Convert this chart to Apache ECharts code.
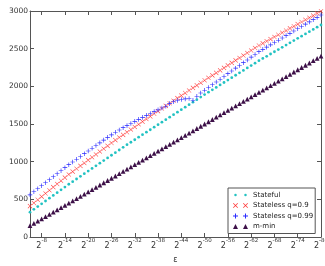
<!DOCTYPE html>
<html>
<head>
<meta charset="utf-8">
<script src="https://cdn.jsdelivr.net/npm/echarts@6/dist/echarts.min.js"></script>
<style>html,body{margin:0;padding:0;background:#fff}#c{width:325px;height:266px}</style>
</head>
<body>
<div id="c"></div>
<script>
// exponent k of epsilon = 2^-k
const kValues = [];
for (let k = 5; k <= 80; k++) kValues.push(k);

const stateful = [330,367,404,441,478,515,552,589,626,663,700,
735,770,805,840,875,910,945,980,1015,1050,1085,1120,1155,1190,1225,
1258,1291,1325,1358,1391,1424,1458,1491,1524,1557,1591,1624,1657,1690,1724,1757,1790,1823,1857,1890,
1922,1954,1986,2019,2051,2083,2115,2147,2179,2211,2244,2276,2308,2340,
2370,2399,2429,2459,2488,2518,2548,2577,2607,2637,2666,2696,2725,2755,2785,2814];

const stateless09 = [410,452,494,536,578,620,662,704,746,788,830,
868,906,944,982,1020,1058,1096,1134,1172,1210,1248,1286,
1321,1356,1391,1426,1461,1496,1531,1566,1601,1636,1671,1706,1741,
1775,1809,1843,1877,1911,1945,1979,2013,2047,
2080,2113,2146,2179,2212,2245,2278,2311,2344,2377,2410,2443,2476,2509,2542,
2570,2599,2627,2655,2684,2712,2741,2769,2797,2826,2854,2883,2911,2939,2968,2996];

const stateless099 = [560,600,640,680,720,760,800,840,880,920,960,
996,1032,1069,1106,1142,1178,1214,1250,1286,1322,
1356,1390,1421,1451,1479,1507,1535,1562,1588,1614,
1639,1664,1688,1712,1735,
1770,1795,1812,1825,1833,1838,1815,1868,1912,
1948,1985,2021,2058,2094,2131,2168,2204,2241,2277,2314,2350,2387,2423,2460,
2490,2521,2551,2582,2612,2642,2673,2703,2734,2764,2794,2825,2855,2886,2916,2947];

const mMin = [150,180,210,240,270,300,330,360,390,420,
450,480,510,540,570,600,630,660,690,720,
750,780,810,840,870,900,930,960,990,1020,
1050,1080,1110,1140,1170,1200,1230,1260,1290,1320,
1350,1380,1410,1440,1470,1500,1530,1560,1590,1620,
1650,1680,1710,1740,1770,1800,1830,1860,1890,1920,
1950,1980,2010,2040,2070,2100,2130,2160,2190,2220,
2250,2280,2310,2340,2370,2400];

const xTicks = [8,14,20,26,32,38,44,50,56,62,68,74,80];
const seriesNames = ['Stateful','Stateless q=0.9','Stateless q=0.99','m-min'];

const pair = a => a.map((v,i)=>[kValues[i], v]);

const FONT = 'DejaVu Sans';
const PLUS = 'path://M4.3,0H5.7V4.3H10V5.7H5.7V10H4.3V5.7H0V4.3H4.3Z';
const XMARK = 'path://M0,0.8L0.8,0L5,4.2L9.2,0L10,0.8L5.8,5L10,9.2L9.2,10L5,5.8L0.8,10L0,9.2L4.2,5Z';
const LEG_DOT = 'path://M0,0M30,10M2.5,5a2.5,2.5 0 1,0 5,0a2.5,2.5 0 1,0 -5,0ZM22.5,5a2.5,2.5 0 1,0 5,0a2.5,2.5 0 1,0 -5,0Z';
const LEG_X = 'path://M0,1L1,0L5,4L9,0L10,1L6,5L10,9L9,10L5,6L1,10L0,9L4,5ZM20,1L21,0L25,4L29,0L30,1L26,5L30,9L29,10L25,6L21,10L20,9L24,5Z';
const LEG_PLUS = 'path://M4,0H6V4H10V6H6V10H4V6H0V4H4ZM24,0H26V4H30V6H26V10H24V6H20V4H24Z';
const LEG_TRI = 'path://M0,10L5,0L10,10ZM20,10L25,0L30,10Z';

const axisLineStyle = {color:'#555', width:1};
const chart = echarts.init(document.getElementById('c'), null, {renderer:'canvas'});
chart.setOption({
  animation:false,
  backgroundColor:'#fff',
  grid:{left:30, right:4, top:11, bottom:29, containLabel:false, outerBoundsMode:'none'},
  xAxis:[{
    type:'value', min:5, max:80, position:'bottom',
    name:'ε', nameLocation:'middle', nameGap:19,
    nameTextStyle:{fontFamily:FONT, fontSize:8, color:'#333'},
    axisLine:{show:true, onZero:false, lineStyle:axisLineStyle},
    axisTick:{show:true, inside:true, length:4, customValues:xTicks, lineStyle:axisLineStyle},
    axisLabel:{show:true, customValues:xTicks, margin:1, color:'#333',
      formatter:v=>'{b|2}{s|-'+v+'}',
      rich:{b:{fontFamily:FONT, fontSize:8, lineHeight:12, verticalAlign:'bottom', color:'#333'},
            s:{fontFamily:FONT, fontSize:5.5, lineHeight:12, verticalAlign:'top', color:'#333'}}},
    splitLine:{show:false}
  },{
    type:'value', min:5, max:80, position:'top',
    axisLine:{show:true, onZero:false, lineStyle:axisLineStyle},
    axisTick:{show:true, inside:true, length:4, customValues:xTicks, lineStyle:axisLineStyle},
    axisLabel:{show:false}, splitLine:{show:false}
  }],
  yAxis:[{
    type:'value', min:0, max:3000, interval:500, position:'left',
    name:'m [bit]', nameLocation:'middle', nameGap:23, nameRotate:90,
    nameTextStyle:{fontFamily:FONT, fontSize:7.5, color:'#333'},
    axisLine:{show:true, onZero:false, lineStyle:axisLineStyle},
    axisTick:{show:true, inside:true, length:4, lineStyle:axisLineStyle},
    axisLabel:{fontFamily:FONT, fontSize:7.5, color:'#333', margin:2, formatter:v=>String(v)},
    splitLine:{show:false}
  },{
    type:'value', min:0, max:3000, interval:500, position:'right',
    axisLine:{show:true, onZero:false, lineStyle:axisLineStyle},
    axisTick:{show:true, inside:true, length:4, lineStyle:axisLineStyle},
    axisLabel:{show:false}, splitLine:{show:false}
  }],
  legend:{
    orient:'vertical', left:228, top:188,
    padding:[3,2,3,5], itemGap:2.5, itemWidth:15, itemHeight:5,
    backgroundColor:'#fff', borderColor:'#555', borderWidth:1, borderRadius:0,
    textStyle:{fontFamily:FONT, fontSize:7, color:'#222', lineHeight:8},
    data:[
      {name:seriesNames[0], icon:LEG_DOT},
      {name:seriesNames[1], icon:LEG_X},
      {name:seriesNames[2], icon:LEG_PLUS},
      {name:seriesNames[3], icon:LEG_TRI}
    ]
  },
  series:[
    {name:seriesNames[0], type:'scatter', data:pair(stateful), symbol:'circle', symbolSize:2.8,
     itemStyle:{color:'#22c2c2', opacity:1}},
    {name:seriesNames[1], type:'scatter', data:pair(stateless09), symbol:XMARK, symbolSize:4.6,
     itemStyle:{color:'#ff3030', opacity:1}},
    {name:seriesNames[2], type:'scatter', data:pair(stateless099), symbol:PLUS, symbolSize:4.6,
     itemStyle:{color:'#2a2aff', opacity:1}},
    {name:seriesNames[3], type:'scatter', data:pair(mMin), symbol:'triangle', symbolSize:4.8,
     itemStyle:{color:'#3d1048', opacity:1}}
  ]
});
</script>
</body>
</html>
